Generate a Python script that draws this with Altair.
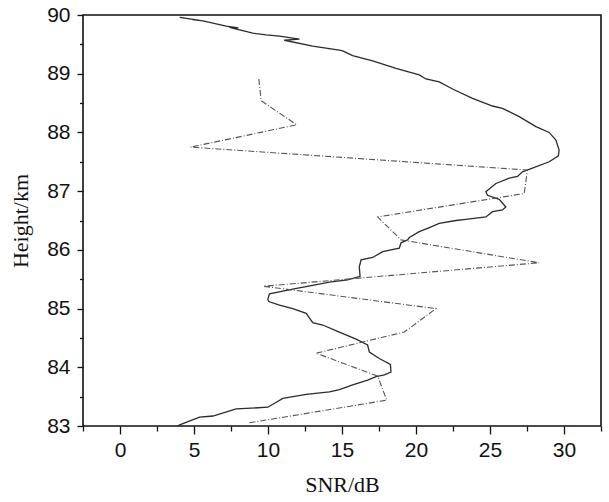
import altair as alt
import pandas as pd

# Solid profile (SNR in dB, height in km), top to bottom
solid_snr = [4.03, 5.38, 4.9, 5.6, 7.18, 8.0, 7.4, 8.97, 9.88, 10.78, 12.13, 11.1, 13.02, 14.82,
             15.05, 15.72, 17.07, 18.65, 20.22, 20.67, 21.57, 22.47, 23.82, 25.17, 25.84,
             26.97, 28.10, 29.0, 29.45, 29.67, 29.62, 29.0, 27.64, 27.19, 26.86, 26.30,
             25.40, 24.72, 24.83, 25.62, 26.07, 25.84, 25.17, 24.72, 23.37, 22.70, 21.57,
             20.90, 20.22, 19.55, 19.43, 18.99, 18.87, 17.75, 17.07, 16.29, 16.17, 16.22,
             15.38, 14.15, 11.67, 10.10, 9.99, 10.05, 10.78, 11.67, 12.58, 13.02, 13.70,
             14.82, 15.95, 16.73, 16.85, 17.52, 18.27, 18.31, 17.86, 17.30, 16.73, 15.72,
             14.82, 14.15, 12.58, 11.0, 9.99, 7.85, 6.28, 5.38, 4.03, 3.89]
solid_h = [89.96, 89.91, 89.92, 89.90, 89.81, 89.78, 89.79, 89.69, 89.66, 89.64, 89.59, 89.57, 89.47, 89.40,
           89.39, 89.31, 89.22, 89.09, 88.98, 88.91, 88.86, 88.74, 88.58, 88.45, 88.41,
           88.27, 88.10, 88.00, 87.87, 87.70, 87.60, 87.50, 87.37, 87.33, 87.25, 87.22,
           87.13, 86.99, 86.93, 86.86, 86.73, 86.68, 86.65, 86.56, 86.52, 86.50, 86.45,
           86.38, 86.31, 86.21, 86.17, 86.12, 86.03, 85.97, 85.87, 85.83, 85.71, 85.55,
           85.49, 85.45, 85.33, 85.25, 85.16, 85.12, 85.06, 85.00, 84.92, 84.76, 84.72,
           84.60, 84.48, 84.38, 84.26, 84.15, 84.05, 83.92, 83.87, 83.84, 83.78, 83.70,
           83.62, 83.58, 83.54, 83.47, 83.32, 83.29, 83.17, 83.15, 83.02, 83.00]

# Dash-dot profile
dash_snr = [9.38, 9.54, 11.94, 4.77, 27.53, 27.31, 17.41, 18.99, 28.32, 9.69,
            21.35, 19.21, 13.25, 17.41, 18.02, 8.64]
dash_h = [88.91, 88.54, 88.13, 87.75, 87.36, 86.96, 86.56, 86.17, 85.78, 85.38,
          85.00, 84.60, 84.24, 83.85, 83.44, 83.05]

x_major = [0, 5, 10, 15, 20, 25, 30]
x_minor = [-2.5, 2.5, 7.5, 12.5, 17.5, 22.5, 27.5, 32.5]
y_major = [83, 84, 85, 86, 87, 88, 89, 90]
y_minor = [83.5, 84.5, 85.5, 86.5, 87.5, 88.5, 89.5]

rows = []
for i, (s, h) in enumerate(zip(solid_snr, solid_h)):
    rows.append({"series": "solid", "idx": i, "snr": s, "h": h})
for i, (s, h) in enumerate(zip(dash_snr, dash_h)):
    rows.append({"series": "dash", "idx": i, "snr": s, "h": h})
df = pd.DataFrame(rows)

xs = alt.Scale(domain=[-2.5, 32.5], nice=False, zero=False)
ys = alt.Scale(domain=[83, 90], nice=False, zero=False)

lab = dict(labelFont="Liberation Sans", labelFontSize=21, labelColor="#111",
           tickColor="#111", tickWidth=1.3, domain=False, grid=False,
           titleFont="Liberation Serif", titleFontSize=22, titleFontWeight="normal",
           titleColor="#111")

base = alt.Chart(df)

solid = base.transform_filter(alt.datum.series == "solid").mark_line(
    color="#2b2b2b", strokeWidth=1.3
).encode(
    x=alt.X("snr:Q", scale=xs, axis=alt.Axis(values=x_major, title="SNR/dB", orient="bottom",
                                             tickSize=8, labelPadding=5, titlePadding=14, **lab)),
    y=alt.Y("h:Q", scale=ys, axis=alt.Axis(values=y_major, title="Height/km", orient="left",
                                           tickSize=6, labelPadding=7, titlePadding=14, **lab)),
    order="idx:Q",
)

dashed = base.transform_filter(alt.datum.series == "dash").mark_line(
    color="#555555", strokeWidth=1.1, strokeDash=[6, 2, 1, 2]
).encode(
    x=alt.X("snr:Q", scale=xs, axis=alt.Axis(values=x_minor, title=None, orient="bottom",
                                             tickSize=5, labels=False, domain=False, grid=False,
                                             tickColor="#111", tickWidth=1.3)),
    y=alt.Y("h:Q", scale=ys, axis=alt.Axis(values=y_minor, title=None, orient="left",
                                           tickSize=3.5, labels=False, domain=False, grid=False,
                                           tickColor="#111", tickWidth=1.3)),
    order="idx:Q",
)

chart = alt.layer(solid, dashed).resolve_axis(x="independent", y="independent").properties(
    width=518, height=411,
    autosize=alt.AutoSizeParams(type="none"),
    padding={"left": 83, "top": 15, "right": 8, "bottom": 76},
    background="white",
).configure_view(stroke="#111", strokeWidth=1.6)

chart.save("out.html", embed_options={"renderer": "svg", "actions": False})
